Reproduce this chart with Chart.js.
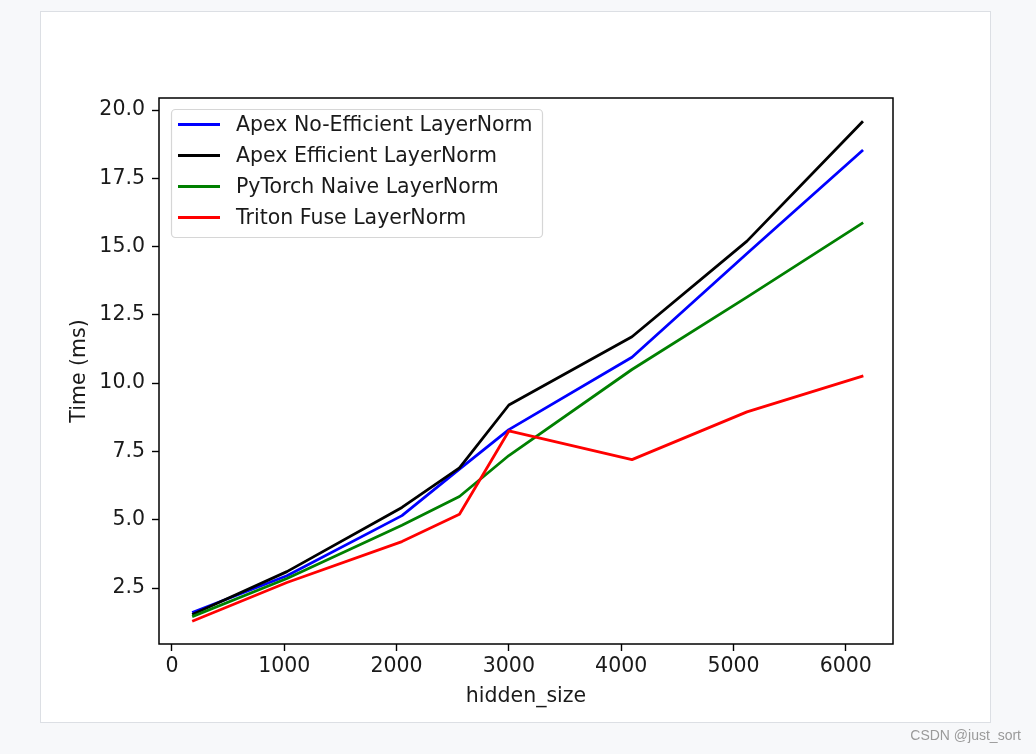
<!DOCTYPE html>
<html>
<head>
<meta charset="utf-8">
<title>LayerNorm benchmark</title>
<script src="https://cdn.jsdelivr.net/npm/chart.js@4.4.1/dist/chart.umd.min.js"></script>
<style>
	html, body { margin: 0; padding: 0; background: #f7f8fa; }
	#wrap { position: relative; width: 1036px; height: 754px; overflow: hidden; }
	#figure { position: absolute; left: 40px; top: 11px; width: 949px; height: 710px; background: #fff; border: 1px solid #dcdfe4; }
	#chart { position: absolute; left: 0; top: 0; }
	#mark { position: absolute; right: 15px; top: 727px; font: 14px "Liberation Sans", Arial, sans-serif; color: #9a9a9a; }
</style>
</head>
<body>
<div id="wrap">
	<div id="figure"></div>
	<canvas id="chart" width="1036" height="754"></canvas>
	<div id="mark">CSDN @just_sort</div>
</div>
<script>
// values
const hiddenSize = [192, 1024, 2048, 2560, 3000, 4096, 5120, 6144];
const apexNoEfficient = [1.62, 2.95, 5.15, 6.85, 8.3, 10.95, 14.75, 18.5];
const apexEfficient = [1.55, 3.1, 5.45, 6.9, 9.2, 11.7, 15.2, 19.55];
const torchNaive = [1.47, 2.85, 4.8, 5.85, 7.35, 10.5, 13.15, 15.85];
const tritonFuse = [1.3, 2.7, 4.2, 5.2, 8.25, 7.2, 8.95, 10.25];

const seriesNames = ["Apex No-Efficient LayerNorm", "Apex Efficient LayerNorm", "PyTorch Naive LayerNorm", "Triton Fuse LayerNorm"];
const seriesValues = [apexNoEfficient, apexEfficient, torchNaive, tritonFuse];

const xTicks = [0, 1000, 2000, 3000, 4000, 5000, 6000];
const yTicks = [2.5, 5, 7.5, 10, 12.5, 15, 17.5, 20];

// axis limits (matplotlib style margins)
const xMin = -115, xMax = 6420;
const yMin = 0.45, yMax = 20.44;

const lineColors = ["#0000ff", "#000000", "#008000", "#ff0000"];
const textColor = "#1a1a1a";
const font = { family: "DejaVu Sans", size: 20.5 };

const framePlugin = {
	id: "frame",
	afterDatasetsDraw(chart) {
		const ctx = chart.ctx, a = chart.chartArea;
		ctx.save();
		ctx.strokeStyle = "#000";
		ctx.lineWidth = 1.5;
		ctx.strokeRect(a.left, a.top, a.right - a.left, a.bottom - a.top);
		ctx.restore();
	}
};

const legendPlugin = {
	id: "boxLegend",
	afterDraw(chart) {
		const ctx = chart.ctx, a = chart.chartArea;
		const x0 = a.left + 12, y0 = a.top + 11, w = 371, h = 128;
		ctx.save();
		ctx.fillStyle = "rgba(255,255,255,0.8)";
		ctx.strokeStyle = "#d6d6d6";
		ctx.lineWidth = 1.2;
		ctx.beginPath();
		ctx.roundRect(x0 + 0.5, y0 + 0.5, w, h, 4);
		ctx.fill();
		ctx.stroke();
		ctx.font = '20.5px "DejaVu Sans"';
		ctx.textBaseline = "middle";
		chart.data.datasets.forEach((ds, i) => {
			const y = y0 + 15.5 + i * 31;
			ctx.strokeStyle = ds.borderColor;
			ctx.lineWidth = 2.8;
			ctx.beginPath();
			ctx.moveTo(x0 + 7, y);
			ctx.lineTo(x0 + 49, y);
			ctx.stroke();
			ctx.fillStyle = textColor;
			ctx.fillText(ds.label, x0 + 65, y + 1);
		});
		ctx.restore();
	}
};

const datasets = seriesNames.map((name, i) => ({
	label: name,
	data: hiddenSize.map((x, j) => ({ x: x, y: seriesValues[i][j] })),
	borderColor: lineColors[i],
	backgroundColor: lineColors[i],
	borderWidth: 2.8,
	borderCapStyle: "square",
	borderJoinStyle: "round",
	pointRadius: 0,
	tension: 0,
	fill: false,
	order: seriesNames.length - i
}));

new Chart(document.getElementById("chart"), {
	type: "line",
	data: { datasets: datasets },
	options: {
		responsive: false,
		animation: false,
		devicePixelRatio: 1,
		layout: { padding: { top: 98, right: 143, bottom: 0, left: 0 } },
		plugins: { legend: { display: false }, tooltip: { enabled: false } },
		scales: {
			x: {
				type: "linear",
				min: xMin,
				max: xMax,
				afterBuildTicks: s => { s.ticks = xTicks.map(v => ({ value: v })); },
				afterFit: s => { s.height = 110; },
				grid: { display: true, drawOnChartArea: false, drawTicks: true, tickLength: 7, tickColor: "#000", tickWidth: 1.4 },
				border: { display: false },
				ticks: { font: font, color: textColor, padding: 3, maxRotation: 0, autoSkip: false, callback: v => String(v) },
				title: { display: true, text: "hidden_size", font: font, color: textColor, padding: { top: 0, bottom: 45 } }
			},
			y: {
				type: "linear",
				min: yMin,
				max: yMax,
				afterBuildTicks: s => { s.ticks = yTicks.map(v => ({ value: v })); },
				afterFit: s => { s.width = 159; },
				grid: { display: true, drawOnChartArea: false, drawTicks: true, tickLength: 7, tickColor: "#000", tickWidth: 1.4 },
				border: { display: false },
				ticks: { font: font, color: textColor, padding: 7, autoSkip: false, callback: v => v.toFixed(1) },
				title: { display: true, text: "Time (ms)", font: font, color: textColor, padding: { top: 67, bottom: 0 } }
			}
		}
	},
	plugins: [framePlugin, legendPlugin]
});
</script>
</body>
</html>
